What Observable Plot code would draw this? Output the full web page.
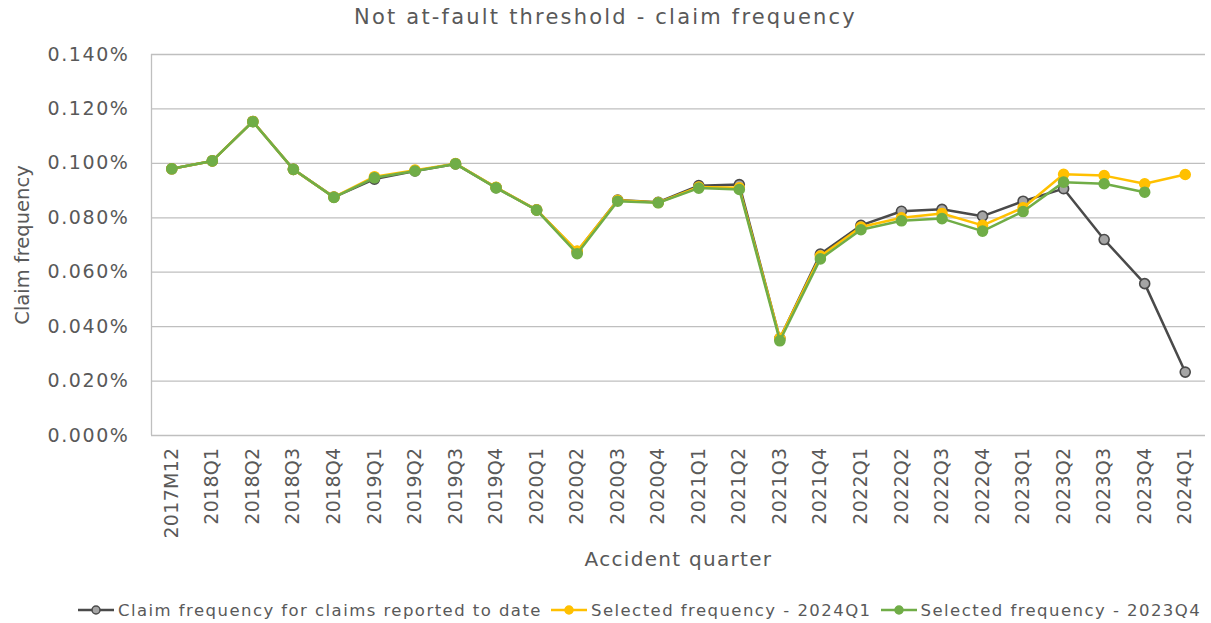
<!DOCTYPE html>
<html><head><meta charset="utf-8">
<script src="https://cdn.jsdelivr.net/npm/d3@7"></script>
<script src="https://cdn.jsdelivr.net/npm/@observablehq/plot@0.6"></script>
<style>
html,body{margin:0;padding:0;background:#fff;overflow:hidden;}
body{font-family:"DejaVu Sans",Verdana,sans-serif;color:#595959;width:1211px;height:623px;}
#title{height:30px;line-height:34px;text-align:center;font-size:21px;letter-spacing:2.2px;}
#legend{box-sizing:border-box;display:flex;align-items:center;height:33px;padding-top:7px;padding-left:78px;font-size:16.5px;letter-spacing:1.45px;white-space:nowrap;}
.item{display:flex;align-items:center;margin-right:9px;}
.item svg{margin-right:4px;}
g[aria-label="y-axis tick label"] text{letter-spacing:1.6px;}
g[aria-label="x-axis tick label"] text{letter-spacing:0.3px;}
</style>
</head><body>
<div id="title">Not at-fault threshold - claim frequency</div>
<div id="chart"></div>
<div id="legend"></div>
<script>
const quarters = ["2017M12","2018Q1","2018Q2","2018Q3","2018Q4","2019Q1","2019Q2","2019Q3","2019Q4","2020Q1","2020Q2","2020Q3","2020Q4","2021Q1","2021Q2","2021Q3","2021Q4","2022Q1","2022Q2","2022Q3","2022Q4","2023Q1","2023Q2","2023Q3","2023Q4","2024Q1"];
const reported = [0.0980,0.1009,0.1154,0.0978,0.0876,0.0942,0.0972,0.0998,0.0911,0.0829,0.0676,0.0865,0.0857,0.0918,0.0922,0.0356,0.0667,0.0772,0.0824,0.0831,0.0806,0.0861,0.0907,0.0720,0.0558,0.0233];
const sel2024Q1 = [0.0980,0.1009,0.1154,0.0978,0.0876,0.0951,0.0975,0.0999,0.0912,0.0829,0.0678,0.0864,0.0856,0.0913,0.0910,0.0357,0.0659,0.0766,0.0800,0.0816,0.0772,0.0837,0.0960,0.0955,0.0925,0.0959];
const sel2023Q4 = [0.0980,0.1009,0.1153,0.0978,0.0875,0.0947,0.0972,0.0998,0.0910,0.0828,0.0668,0.0861,0.0855,0.0909,0.0904,0.0348,0.0649,0.0756,0.0789,0.0797,0.0751,0.0823,0.0931,0.0925,0.0894,null];
const seriesNames = ["Claim frequency for claims reported to date","Selected frequency - 2024Q1","Selected frequency - 2023Q4"];
const yTicks = [0,0.02,0.04,0.06,0.08,0.10,0.12,0.14];
const xTitle = "Accident quarter";
const yTitle = "Claim frequency";

const series = [
  {name: seriesNames[0], values: reported, line: "#4a4a4a", fill: "#a5a5a5", stroke: "#4a4a4a", r: 5},
  {name: seriesNames[1], values: sel2024Q1, line: "#FFC000", fill: "#FFC000", stroke: "#FFC000", r: 5},
  {name: seriesNames[2], values: sel2023Q4, line: "#70AD47", fill: "#70AD47", stroke: "#70AD47", r: 5}
];
const rows = s => quarters.map((q,i)=>({quarter:q, value:s.values[i]})).filter(d=>d.value!=null);

const W = 1211, H = 560, ml = 151, mr = 6, mt = 24, mb = 155;
const step = (W - ml - mr) / quarters.length;
const font = '"DejaVu Sans", Verdana, sans-serif';

const marks = [
  Plot.gridY(yTicks, {stroke:"#bfbfbf", strokeOpacity:1, strokeWidth:1.3}),
  Plot.ruleX([quarters[0]], {dx: -step/2, y1: 0, y2: 0.14, stroke:"#bfbfbf", strokeWidth:1.3}),
  Plot.axisY(yTicks, {tickSize:0, tickPadding:22, tickFormat: d => d.toFixed(3) + "%", fontSize:19, label:null}),
  Plot.axisX({tickSize:0, tickRotate:-90, tickPadding:12, fontSize:19, label:null}),
  Plot.text([xTitle], {text: d=>d, frameAnchor:"bottom", dy:130, fontSize:20, fill:"#595959"}),
  Plot.text([yTitle], {text: d=>d, frameAnchor:"left", textAnchor:"middle", dx:-129, rotate:-90, fontSize:19.5, fill:"#595959"})
];
for (const s of series) {
  const data = rows(s);
  marks.push(Plot.line(data, {x:"quarter", y:"value", stroke:s.line, strokeWidth:2.5}));
  marks.push(Plot.dot(data, {x:"quarter", y:"value", r:s.r, fill:s.fill, stroke:s.stroke, strokeWidth:1.6}));
}

const chart = Plot.plot({
  width: W, height: H,
  marginLeft: ml, marginRight: mr, marginTop: mt, marginBottom: mb,
  style: {fontFamily: font, color: "#595959", background: "#fff", overflow: "visible"},
  x: {type:"point", domain: quarters, padding: 0.5, round: false, label: null},
  y: {domain: [0, 0.14], label: null},
  marks
});
d3.select(chart).selectAll("text").filter(function(){ return this.textContent === xTitle; }).style("letter-spacing", "1.3px");
document.getElementById("chart").appendChild(chart);

const legend = document.getElementById("legend");
for (const s of series) {
  const item = document.createElement("div");
  item.className = "item";
  item.innerHTML = `<svg width="36" height="14"><line x1="0" y1="7" x2="36" y2="7" stroke="${s.line}" stroke-width="2.5"/><circle cx="18" cy="7" r="4" fill="${s.fill}" stroke="${s.stroke}" stroke-width="1.5"/></svg><span>${s.name}</span>`;
  legend.appendChild(item);
}
</script>
</body></html>
